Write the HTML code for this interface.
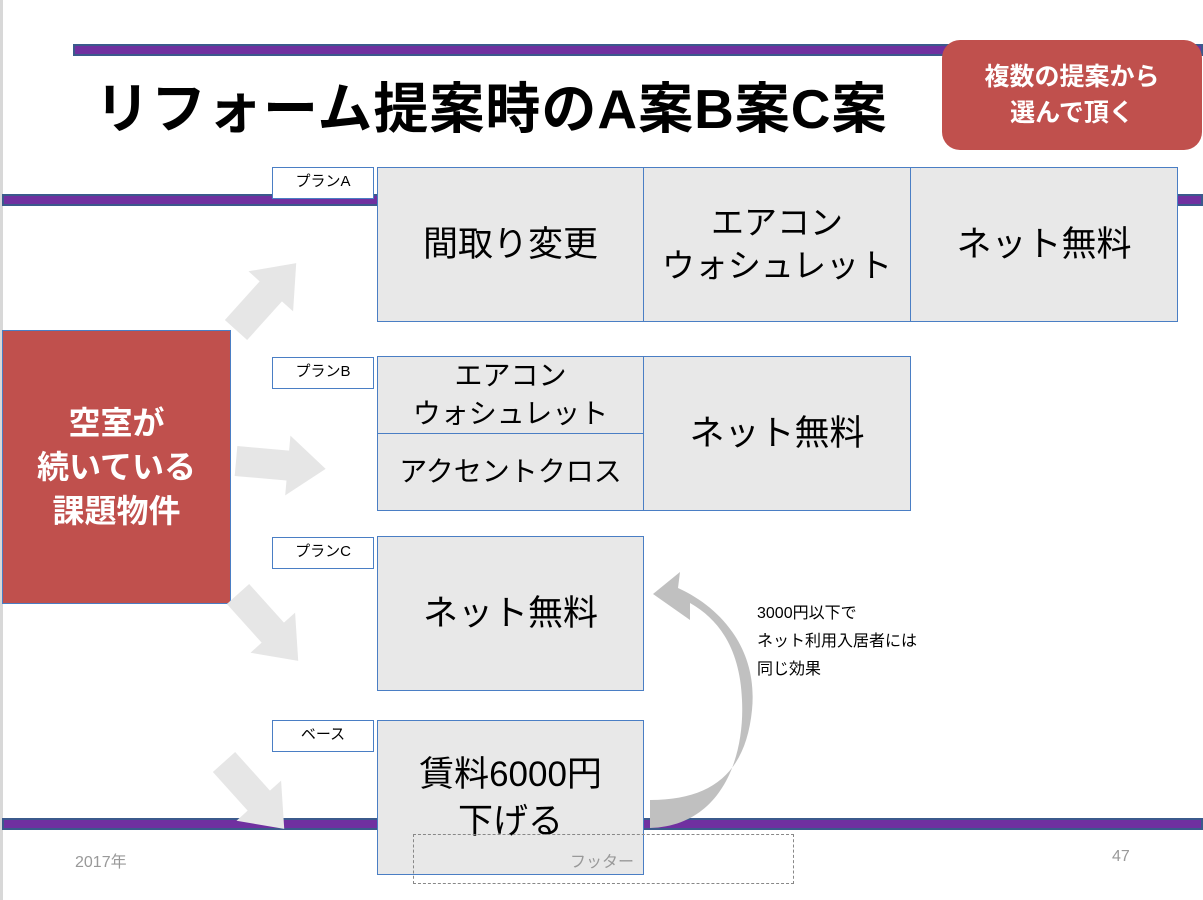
<!DOCTYPE html>
<html><head><meta charset="utf-8"><style>
body{margin:0;width:1203px;height:900px;background:#fff;position:relative;overflow:hidden;font-family:"Liberation Sans","Noto Sans CJK JP",sans-serif}
.bar{position:absolute;background:#7030a0;border:2px solid #3b5a8c;box-sizing:border-box;height:12px}
.box{position:absolute;background:#e8e8e8;border:1px solid #4a7ec4;box-sizing:border-box;display:flex;align-items:center;justify-content:center;text-align:center;color:#000;line-height:1.3}
.lab{position:absolute;background:#fff;border:1px solid #4a7ec4;box-sizing:border-box;font-size:15px;text-align:center;height:32px;line-height:28px;width:102px;left:272px}
.abs{position:absolute}
</style></head><body>
<div class="abs" style="left:0;top:0;width:3px;height:900px;background:#d8d8d8"></div>
<div class="bar" style="left:73px;top:44px;width:1130px"></div>
<div class="bar" style="left:2px;top:194px;width:1201px"></div>
<div class="bar" style="left:2px;top:818px;width:1201px"></div>
<div class="abs" style="left:95px;top:64px;font-size:55px;font-weight:bold;letter-spacing:1px;white-space:nowrap">リフォーム提案時のA案B案C案</div>
<div class="abs" style="left:942px;top:40px;width:260px;height:110px;background:#c0504d;border-radius:18px;color:#fff;font-weight:bold;font-size:25px;text-align:center;line-height:36px;display:flex;align-items:center;justify-content:center">複数の提案から<br>選んで頂く</div>
<div class="abs" style="left:2px;top:330px;width:229px;height:274px;background:#c0504d;border:1px solid #4a7ec4;box-sizing:border-box;color:#fff;font-size:32px;font-weight:bold;display:flex;align-items:center;justify-content:center;text-align:center;line-height:44px">空室が<br>続いている<br>課題物件</div>
<svg class="abs" style="left:0;top:0" width="1203" height="900">
<defs><polygon id="ar" points="0,-15 52,-15 52,-30 90,0 52,30 52,15 0,15" fill="#e6e6e6"/></defs>
<use href="#ar" transform="translate(236,330) rotate(-48)"/>
<use href="#ar" transform="translate(236,461) rotate(5)"/>
<use href="#ar" transform="translate(238,594) rotate(48)"/>
<use href="#ar" transform="translate(224,762) rotate(48)"/>
<path d="M650,828 C720,826 745,760 742,700 C740,650 720,620 690,603 L690,620 L653,594 L680,572 L678,588 C722,608 758,650 752,710 C746,770 715,800 650,800 Z" fill="#c0c0c0"/>
</svg>
<div class="box" style="left:377px;top:167px;width:267px;height:155px;font-size:35px">間取り変更</div>
<div class="box" style="left:643px;top:167px;width:268px;height:155px;font-size:33px">エアコン<br>ウォシュレット</div>
<div class="box" style="left:910px;top:167px;width:268px;height:155px;font-size:35px">ネット無料</div>
<div class="box" style="left:377px;top:356px;width:267px;height:78px;font-size:28px;line-height:1.35">エアコン<br>ウォシュレット</div>
<div class="box" style="left:377px;top:433px;width:267px;height:78px;font-size:28px">アクセントクロス</div>
<div class="box" style="left:643px;top:356px;width:268px;height:155px;font-size:35px">ネット無料</div>
<div class="box" style="left:377px;top:536px;width:267px;height:155px;font-size:35px">ネット無料</div>
<div class="box" style="left:377px;top:720px;width:267px;height:155px;font-size:35px;line-height:1.35;align-items:flex-start;padding-top:30px">賃料6000円<br>下げる</div>
<div class="lab" style="top:167px">プランA</div>
<div class="lab" style="top:357px">プランB</div>
<div class="lab" style="top:537px">プランC</div>
<div class="lab" style="top:720px">ベース</div>
<div class="abs" style="left:757px;top:600px;font-size:16px;line-height:28px">3000円以下で<br>ネット利用入居者には<br>同じ効果</div>
<div class="abs" style="left:413px;top:834px;width:381px;height:50px;border:1px dashed #888;box-sizing:border-box"></div>
<div class="abs" style="left:570px;top:848px;font-size:16px;color:#999">フッター</div>
<div class="abs" style="left:75px;top:848px;font-size:16px;color:#999">2017年</div>
<div class="abs" style="left:1112px;top:848px;font-size:16px;color:#999">47</div>
</body></html>
